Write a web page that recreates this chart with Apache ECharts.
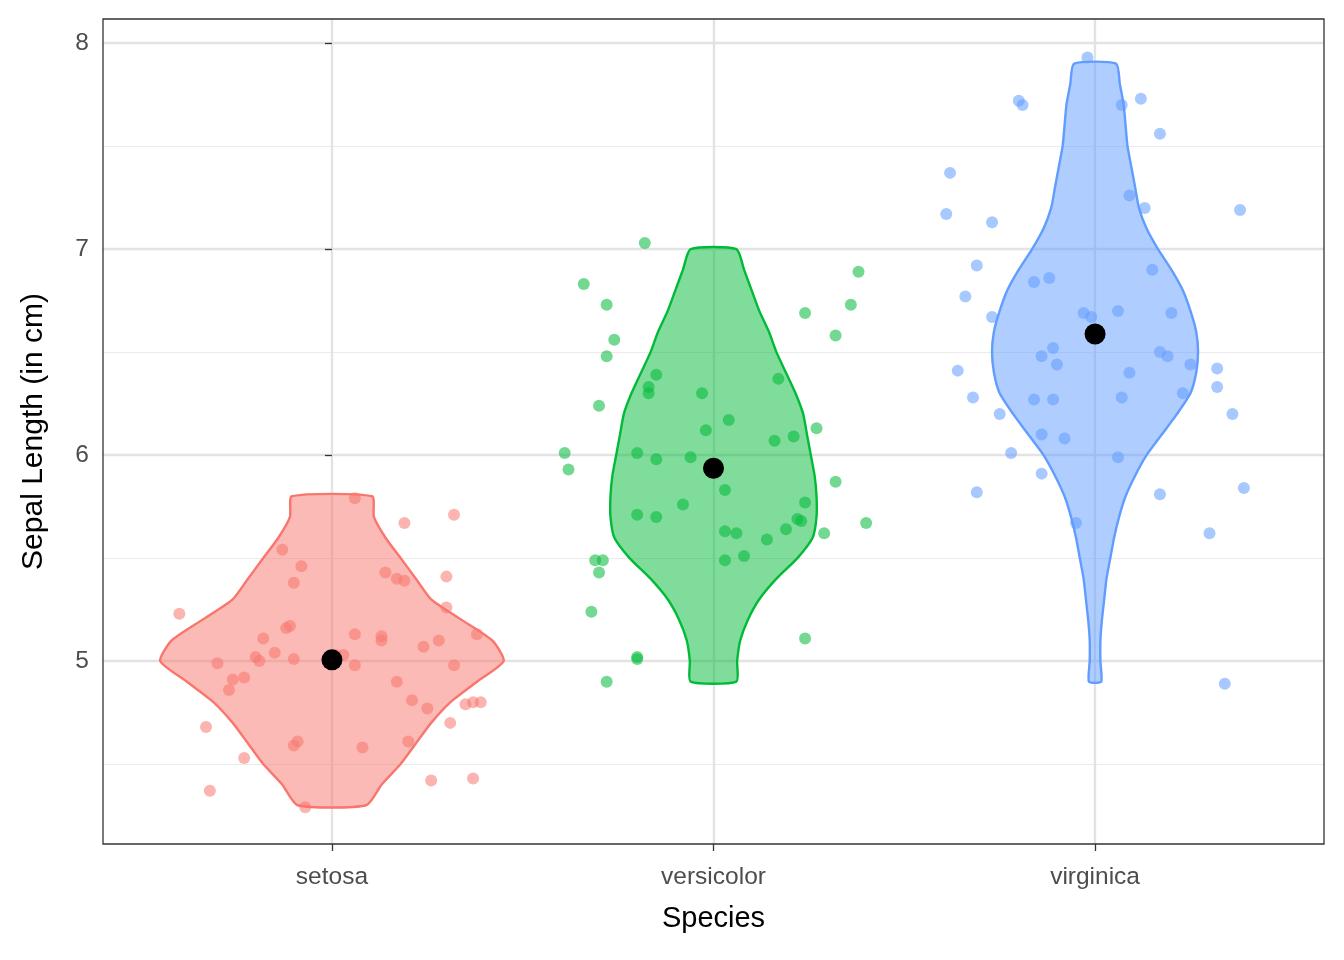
<!DOCTYPE html>
<html><head><meta charset="utf-8">
<script src="https://cdn.jsdelivr.net/npm/echarts@6/dist/echarts.min.js"></script>
<style>html,body{margin:0;background:#fff}#c{width:1344px;height:960px}</style>
</head><body><div id="c"></div>
<script>
const categories = ["setosa", "versicolor", "virginica"];
const colors = ["#F8766D", "#00BA38", "#619CFF"];
const yTicks = [5, 6, 7, 8];
const means = [5.006, 5.936, 6.588];
// violin profiles: [value, half width in category units]
const violinSetosa = [[5.8,0.105],[5.7,0.11],[5.6,0.14],[5.5,0.18],[5.4,0.22],[5.3,0.26],[5.2,0.34],[5.1,0.42],[5.0,0.45],[4.9,0.38],[4.8,0.31],[4.7,0.26],[4.6,0.22],[4.5,0.18],[4.4,0.13],[4.3,0.09]];
const violinVersicolor = [[7.0,0.06],[6.9,0.08],[6.8,0.10],[6.7,0.12],[6.6,0.145],[6.5,0.165],[6.4,0.19],[6.3,0.215],[6.2,0.235],[6.1,0.245],[6.0,0.255],[5.9,0.265],[5.8,0.27],[5.7,0.27],[5.6,0.26],[5.5,0.22],[5.4,0.165],[5.3,0.12],[5.2,0.09],[5.1,0.07],[5.0,0.062],[4.9,0.06]];
const violinVirginica = [[7.9,0.055],[7.8,0.065],[7.7,0.075],[7.6,0.08],[7.5,0.085],[7.4,0.095],[7.3,0.105],[7.2,0.115],[7.1,0.135],[7.0,0.165],[6.9,0.2],[6.8,0.23],[6.7,0.25],[6.6,0.265],[6.5,0.27],[6.4,0.265],[6.3,0.25],[6.2,0.215],[6.1,0.175],[6.0,0.135],[5.9,0.105],[5.8,0.08],[5.7,0.063],[5.6,0.05],[5.5,0.04],[5.4,0.03],[5.3,0.024],[5.2,0.018],[5.1,0.014],[5.0,0.014],[4.9,0.016]];
// jittered points: [x offset, value]
const ptsSetosa = [[-0.40,5.23],[-0.33,4.68],[-0.32,4.37],[-0.23,4.53],[-0.30,4.99],[-0.26,4.91],[-0.27,4.86],[-0.23,4.92],[-0.20,5.02],[-0.19,5.00],[-0.18,5.11],[-0.15,5.04],[-0.13,5.54],[-0.10,5.38],[-0.12,5.16],[-0.11,5.17],[-0.10,5.01],[-0.09,4.61],[-0.10,4.59],[-0.08,5.46],[-0.07,4.29],[0.01,5.03],[0.03,5.03],[0.06,5.13],[0.06,4.98],[0.06,5.79],[0.08,4.58],[0.13,5.12],[0.13,5.10],[0.14,5.43],[0.17,5.40],[0.19,5.67],[0.19,5.39],[0.17,4.90],[0.20,4.61],[0.21,4.81],[0.24,5.07],[0.25,4.77],[0.26,4.42],[0.28,5.10],[0.30,5.41],[0.30,5.26],[0.31,4.70],[0.32,4.98],[0.32,5.71],[0.35,4.79],[0.37,4.80],[0.39,4.80],[0.37,4.43],[0.38,5.13]];
const ptsVersicolor = [[-0.39,6.01],[-0.38,5.93],[-0.34,6.83],[-0.32,5.24],[-0.31,5.49],[-0.30,5.43],[-0.29,5.49],[-0.30,6.24],[-0.28,4.90],[-0.28,6.73],[-0.26,6.56],[-0.28,6.48],[-0.20,6.01],[-0.20,5.71],[-0.18,7.03],[-0.17,6.33],[-0.17,6.30],[-0.15,6.39],[-0.15,5.70],[-0.15,5.98],[-0.08,5.76],[-0.06,5.99],[-0.03,6.30],[-0.02,6.12],[0.03,5.49],[0.03,5.83],[0.03,5.63],[0.04,6.17],[0.06,5.62],[0.08,5.51],[0.14,5.59],[0.16,6.07],[0.17,6.37],[0.19,5.64],[0.21,6.09],[0.22,5.69],[0.23,5.68],[0.24,5.77],[0.24,6.69],[0.24,5.11],[0.27,6.13],[0.29,5.62],[0.32,6.58],[0.32,5.87],[0.36,6.73],[0.38,6.89],[0.40,5.67],[-0.20,5.02],[-0.20,5.01]];
const ptsVirginica = [[-0.38,7.37],[-0.39,7.17],[-0.27,7.13],[-0.31,6.92],[-0.34,6.77],[-0.27,6.67],[-0.36,6.41],[-0.32,6.28],[-0.25,6.20],[-0.31,5.82],[-0.22,6.01],[-0.20,7.72],[-0.19,7.70],[-0.16,6.84],[-0.12,6.86],[-0.16,6.27],[-0.14,6.48],[-0.11,6.52],[-0.10,6.44],[-0.14,6.10],[-0.11,6.27],[-0.08,6.08],[-0.14,5.91],[-0.05,5.67],[-0.03,6.69],[-0.01,6.67],[0.06,6.70],[0.07,7.70],[0.12,7.73],[0.17,7.56],[0.06,5.99],[0.09,7.26],[0.13,7.20],[0.09,6.40],[0.07,6.28],[0.15,6.90],[0.17,6.50],[0.19,6.48],[0.20,6.69],[0.17,5.81],[0.23,6.30],[0.25,6.44],[0.32,6.42],[0.32,6.33],[0.36,6.20],[0.38,7.19],[0.39,5.84],[0.30,5.62],[0.34,4.89],[-0.02,7.93]];

const violins = [violinSetosa, violinVersicolor, violinVirginica];
const pts = [ptsSetosa, ptsVersicolor, ptsVirginica];
const majorY = [5,6,7,8], minorY = [4.5,5.5,6.5,7.5];

function hexA(h,a){const n=parseInt(h.slice(1),16);return `rgba(${n>>16},${(n>>8)&255},${n&255},${a})`;}

const series = [];
series.push({
  type:'line', data:[], silent:true, z:0, zlevel:0,
  markLine:{symbol:'none', silent:true, label:{show:false}, animation:false, z:0,
    data:[
      ...minorY.map(v=>({yAxis:v, lineStyle:{color:'#ebebeb', width:1.2, type:'solid'}})),
      ...majorY.map(v=>({yAxis:v, lineStyle:{color:'#e3e3e3', width:2.4, type:'solid'}})),
      ...categories.map((c,i)=>({xAxis:i, lineStyle:{color:'#e3e3e3', width:2.4, type:'solid'}}))
    ]}
});
series.push({
  type:'custom', z:3,
  data: categories.map((c,i)=>[i]),
  renderItem(params, api){
    const i = params.dataIndex, prof = violins[i];
    const right = prof.map(p=>api.coord([i+p[1], p[0]]));
    const left = prof.slice().reverse().map(p=>api.coord([i-p[1], p[0]]));
    return {type:'polygon', shape:{points:right.concat(left), smooth:0.2},
      style:{fill:hexA(colors[i],0.5), stroke:colors[i], lineWidth:2.4}};
  }
});
pts.forEach((arr,i)=>{
  series.push({type:'scatter', z:4, symbolSize:12, data:arr.map(p=>[i+p[0],p[1]]),
    itemStyle:{color:hexA(colors[i],0.55), opacity:1}});
});
series.push({type:'scatter', z:6, symbolSize:21, data:means.map((m,i)=>[i,m]), itemStyle:{color:'#000', opacity:1}});

const chart = echarts.init(document.getElementById('c'));
chart.setOption({
  animation:false,
  grid:{left:103, right:20, top:19, bottom:116, show:true, borderColor:'#333', borderWidth:1.3, backgroundColor:'transparent', z:10},
  xAxis:{type:'value', min:-0.6, max:2.6, name:'Species', nameLocation:'middle', nameGap:60,
    nameTextStyle:{fontSize:29, color:'#000', fontFamily:'Liberation Sans'},
    splitLine:{show:false}, axisLine:{show:false},
    axisTick:{show:true, customValues:[0,1,2], length:7, lineStyle:{color:'#333', width:1.3}},
    axisLabel:{customValues:[0,1,2], formatter:v=>categories[Math.round(v)], fontSize:24.5, color:'#4d4d4d', margin:21, fontFamily:'Liberation Sans'}},
  yAxis:{type:'value', min:4.112, max:8.117, name:'Sepal Length (in cm)', nameLocation:'middle', nameGap:54, nameRotate:90,
    nameTextStyle:{fontSize:30, color:'#000', fontFamily:'Liberation Sans'},
    splitLine:{show:false}, axisLine:{show:false},
    axisTick:{show:true, customValues:yTicks, length:7, lineStyle:{color:'#333', width:1.3}},
    axisLabel:{customValues:yTicks, fontSize:24.5, color:'#4d4d4d', margin:14, fontFamily:'Liberation Sans'}},
  series
});
</script></body></html>
